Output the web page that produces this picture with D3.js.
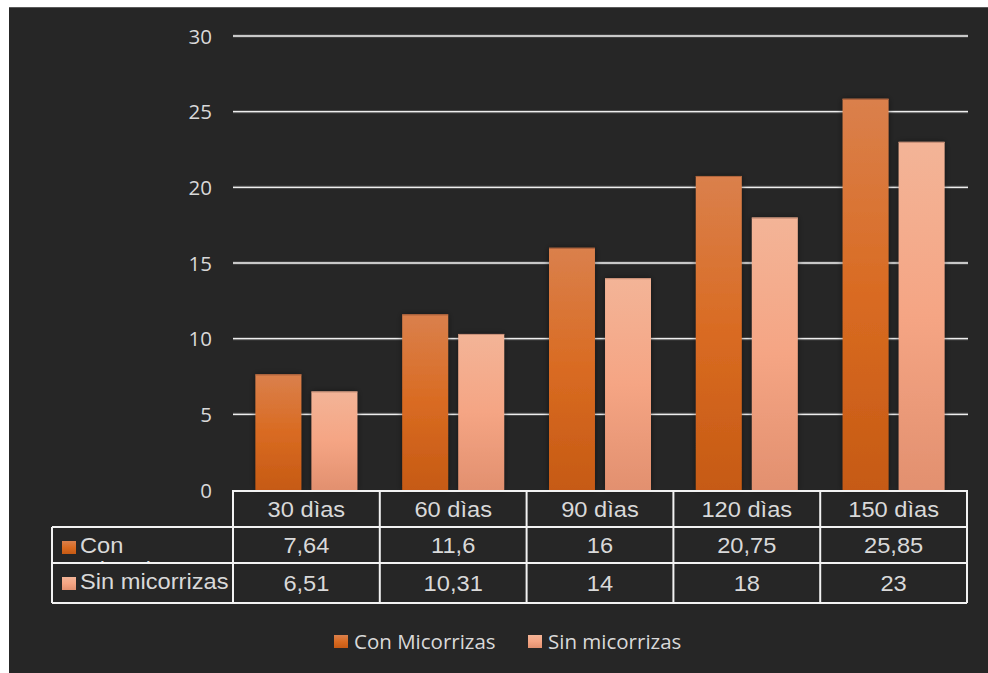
<!DOCTYPE html>
<html>
<head>
<meta charset="utf-8">
<script src="https://cdn.jsdelivr.net/npm/d3@7"></script>
<style>
  html, body { margin: 0; padding: 0; background: #ffffff; }
  svg { display: block; }
</style>
</head>
<body>
<svg id="chart" width="988" height="673"></svg>
<script>
// Growth by day count, with and without mycorrhizae
const categories = ["30 dìas", "60 dìas", "90 dìas", "120 dìas", "150 dìas"];
const seriesNames = ["Con Micorrizas", "Sin micorrizas"];
const conMicorrizas = [7.64, 11.6, 16, 20.75, 25.85];
const sinMicorrizas = [6.51, 10.31, 14, 18, 23];
const tableConLabels = ["7,64", "11,6", "16", "20,75", "25,85"];
const tableSinLabels = ["6,51", "10,31", "14", "18", "23"];
const yTicks = [0, 5, 10, 15, 20, 25, 30];

const seriesValues = [conMicorrizas, sinMicorrizas];
const seriesTableLabels = [tableConLabels, tableSinLabels];

const svg = d3.select("#chart");
const textColor = "#d9d9d9";
const tickFont = "'Open Sans', 'Noto Sans', sans-serif";
const tableFont = "'Liberation Sans', Arial, sans-serif";
const tableSize = 21.5, tableStretch = 1.1;

// Dark chart panel
svg.append("rect").attr("x", 9).attr("y", 7).attr("width", 979).attr("height", 666).attr("fill", "#262626");
svg.append("line").attr("x1", 9).attr("x2", 988).attr("y1", 7.5).attr("y2", 7.5).attr("stroke", "#5a5a5a").attr("stroke-width", 1);

const plotLeft = 233, plotRight = 967, plotTop = 36, plotBottom = 490;

const x0 = d3.scaleBand().domain(categories).range([plotLeft, plotRight]).padding(0);
const x1 = d3.scaleBand().domain(seriesNames).range([0, x0.bandwidth()]).paddingInner(0.18).paddingOuter(0.4);
const y = d3.scaleLinear().domain([0, 30]).range([plotBottom, plotTop]);

const defs = svg.append("defs");
const gradStops = [
  [["0%", "#da804c"], ["50%", "#d96b22"], ["100%", "#c65a14"]],
  [["0%", "#f3b497"], ["50%", "#f5a584"], ["100%", "#e2906f"]]
];
gradStops.forEach((stops, i) => {
  const g = defs.append("linearGradient").attr("id", "grad" + i)
    .attr("x1", 0).attr("y1", 0).attr("x2", 0).attr("y2", 1);
  stops.forEach(s => g.append("stop").attr("offset", s[0]).attr("stop-color", s[1]));
});
const shadow = defs.append("filter").attr("id", "shadow").attr("x", "-30%").attr("y", "-10%").attr("width", "160%").attr("height", "120%");
shadow.append("feDropShadow").attr("dx", 0).attr("dy", 0).attr("stdDeviation", 3)
  .attr("flood-color", "#000").attr("flood-opacity", 0.45);

// Gridlines with a subtle glow
const grid = svg.append("g");
grid.selectAll("line.glow").data(yTicks.filter(t => t > 0)).join("line")
  .attr("x1", plotLeft).attr("x2", plotRight + 1)
  .attr("y1", d => y(d)).attr("y2", d => y(d))
  .attr("stroke", "#8a8a8a").attr("stroke-width", 3).attr("opacity", 0.5);
grid.selectAll("line.main").data(yTicks.filter(t => t > 0)).join("line")
  .attr("x1", plotLeft).attr("x2", plotRight + 1)
  .attr("y1", d => y(d)).attr("y2", d => y(d))
  .attr("stroke", "#eeeeee").attr("stroke-width", 1.3);

// Y axis labels
const yAxis = d3.axisLeft(y).tickValues(yTicks).tickSize(0).tickPadding(0).tickFormat(d3.format("d"));
const yg = svg.append("g").attr("transform", `translate(212,0)`).call(yAxis);
yg.select(".domain").remove();
yg.selectAll("text").attr("fill", textColor).attr("font-family", tickFont).attr("font-size", 20.5).attr("dy", "0.35em");

// Bars
const barGroups = svg.append("g").selectAll("g").data(categories).join("g")
  .attr("transform", d => `translate(${x0(d)},0)`);
barGroups.selectAll("rect").data((d, ci) => seriesNames.map((s, si) => ({ s, si, v: seriesValues[si][ci] })))
  .join("rect")
  .attr("x", d => x1(d.s)).attr("width", x1.bandwidth())
  .attr("y", d => y(d.v)).attr("height", d => y(0) - y(d.v))
  .attr("fill", d => `url(#grad${d.si})`)
  .attr("filter", "url(#shadow)");
barGroups.selectAll("line.top").data((d, ci) => seriesNames.map((s, si) => ({ s, si, v: seriesValues[si][ci] })))
  .join("line").attr("class", "top")
  .attr("x1", d => x1(d.s)).attr("x2", d => x1(d.s) + x1.bandwidth())
  .attr("y1", d => y(d.v) + 0.5).attr("y2", d => y(d.v) + 0.5)
  .attr("stroke", d => d.si === 0 ? "#b0643e" : "#c89078").attr("stroke-width", 1.2);

// Data table
const rowTops = [490, 527, 563, 603];
const tableLeft = 52;
const table = svg.append("g");
const lineStyle = sel => sel.attr("stroke", "#f2f2f2").attr("stroke-width", 2).attr("fill", "none");

// table text, slightly widened
function tableText(parent, tx, ty, str, anchor) {
  return parent.append("text")
    .attr("transform", `translate(${tx},${ty}) scale(${tableStretch},1)`)
    .attr("text-anchor", anchor)
    .attr("fill", textColor).attr("font-family", tableFont).attr("font-size", tableSize)
    .text(str);
}

// horizontal lines
table.append("line").call(lineStyle).attr("x1", plotLeft).attr("x2", plotRight).attr("y1", rowTops[0] + 1).attr("y2", rowTops[0] + 1);
[1, 2, 3].forEach(i => {
  table.append("line").call(lineStyle).attr("x1", tableLeft).attr("x2", plotRight).attr("y1", rowTops[i]).attr("y2", rowTops[i]);
});
// vertical lines
table.append("line").call(lineStyle).attr("x1", tableLeft).attr("x2", tableLeft).attr("y1", rowTops[1]).attr("y2", rowTops[3]);
const colEdges = categories.map(c => x0(c)).concat([plotRight]);
colEdges.forEach(xv => {
  table.append("line").call(lineStyle).attr("x1", xv).attr("x2", xv).attr("y1", rowTops[0]).attr("y2", rowTops[3]);
});

// header cells
categories.forEach(c => {
  tableText(table, x0(c) + x0.bandwidth() / 2, (rowTops[0] + rowTops[1]) / 2 + 8, c, "middle");
});

// value rows
seriesNames.forEach((s, si) => {
  const top = rowTops[si + 1], bottom = rowTops[si + 2];
  seriesTableLabels[si].forEach((lab, i) => {
    tableText(table, x0(categories[i]) + x0.bandwidth() / 2, (top + bottom) / 2 + 8, lab, "middle");
  });

  // row header with legend key, clipped to the cell
  const clipId = "rowclip" + si;
  defs.append("clipPath").attr("id", clipId).append("rect")
    .attr("x", tableLeft + 1).attr("y", top + 1).attr("width", plotLeft - tableLeft - 2).attr("height", bottom - top - 2);
  const cell = table.append("g").attr("clip-path", `url(#${clipId})`);
  cell.append("rect").attr("x", 62).attr("y", top + 14).attr("width", 14).attr("height", 13)
    .attr("fill", `url(#grad${si})`);
  const words = si === 0 ? ["Con", "Micorrizas"] : [s];
  words.forEach((w, wi) => {
    tableText(cell, 80, top + 25.5 + wi * 24, w, "start");
  });
});

// Legend
const legendItems = [{ name: seriesNames[0], x: 334, i: 0 }, { name: seriesNames[1], x: 528, i: 1 }];
const legend = svg.append("g");
legendItems.forEach(d => {
  legend.append("rect").attr("x", d.x).attr("y", 635).attr("width", 14).attr("height", 13).attr("fill", `url(#grad${d.i})`);
  legend.append("text").attr("x", d.x + 20).attr("y", 648.5)
    .attr("fill", textColor).attr("font-family", tickFont).attr("font-size", 20.5).text(d.name);
});
</script>
</body>
</html>
